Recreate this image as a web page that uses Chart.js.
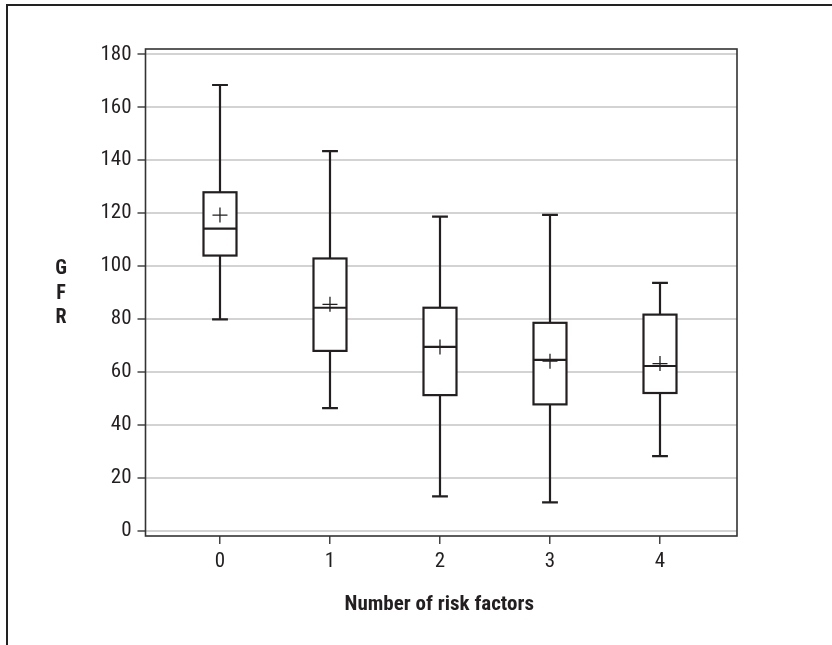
<!DOCTYPE html>
<html>
<head>
<meta charset="utf-8">
<script src="https://cdn.jsdelivr.net/npm/chart.js@4/dist/chart.umd.min.js"></script>
<style>
  html, body { margin: 0; padding: 0; background: #fff; }
  canvas { display: block; }
</style>
</head>
<body>
<canvas id="c" width="832" height="645"></canvas>
<script>
// ---- data ----
const categories   = ['0', '1', '2', '3', '4'];
const whiskerLow   = [79.9, 46.4, 13.1, 10.8, 28.3];
const quartile1    = [104.0, 68.0, 51.3, 47.8, 52.1];
const medians      = [114.2, 84.3, 69.5, 64.6, 62.3];
const quartile3    = [127.9, 102.9, 84.3, 78.6, 81.7];
const whiskerHigh  = [168.4, 143.4, 118.7, 119.4, 93.7];
const means        = [119.3, 85.6, 69.5, 64.1, 63.2];
const yTickValues  = [0, 20, 40, 60, 80, 100, 120, 140, 160, 180];
const xTitle = 'Number of risk factors';
const yTitle = ['G', 'F', 'R'];

const INK = '#231f20';
const FONT = '"Roboto Condensed", "Liberation Sans Narrow", "DejaVu Sans Condensed", sans-serif';

const boxPlugin = {
  id: 'boxes',
  beforeDraw(chart) {
    const ctx = chart.ctx;
    ctx.save();
    ctx.fillStyle = '#fff';
    ctx.fillRect(0, 0, chart.width, chart.height);
    // outer frame (top and left)
    ctx.strokeStyle = '#222';
    ctx.lineWidth = 2;
    ctx.beginPath();
    ctx.moveTo(7, chart.height);
    ctx.lineTo(7, 5);
    ctx.lineTo(chart.width, 5);
    ctx.stroke();
    ctx.restore();
  },
  beforeDatasetsDraw(chart) {
    const ctx = chart.ctx;
    const xs = chart.scales.x, ys = chart.scales.y;
    const halfBox = (xs.getPixelForValue(0.15) - xs.getPixelForValue(0));
    const halfCap = (xs.getPixelForValue(0.072) - xs.getPixelForValue(0));
    ctx.save();
    ctx.strokeStyle = INK;
    ctx.lineWidth = 2.2;
    categories.forEach((c, i) => {
      const x = Math.round(xs.getPixelForValue(i));
      const yLo = ys.getPixelForValue(whiskerLow[i]);
      const yQ1 = ys.getPixelForValue(quartile1[i]);
      const yMd = ys.getPixelForValue(medians[i]);
      const yQ3 = ys.getPixelForValue(quartile3[i]);
      const yHi = ys.getPixelForValue(whiskerHigh[i]);
      // whiskers
      ctx.beginPath();
      ctx.moveTo(x, yHi); ctx.lineTo(x, yQ3);
      ctx.moveTo(x, yQ1); ctx.lineTo(x, yLo);
      ctx.moveTo(x - halfCap, yHi); ctx.lineTo(x + halfCap, yHi);
      ctx.moveTo(x - halfCap, yLo); ctx.lineTo(x + halfCap, yLo);
      ctx.stroke();
      // box
      ctx.fillStyle = '#fff';
      ctx.fillRect(x - halfBox, yQ3, 2 * halfBox, yQ1 - yQ3);
      ctx.strokeRect(x - halfBox, yQ3, 2 * halfBox, yQ1 - yQ3);
      // median
      ctx.beginPath();
      ctx.moveTo(x - halfBox, yMd); ctx.lineTo(x + halfBox, yMd);
      ctx.stroke();
    });
    ctx.restore();
  },
  afterDraw(chart) {
    const ctx = chart.ctx;
    const a = chart.chartArea;
    ctx.save();
    // plot frame
    ctx.strokeStyle = '#333';
    ctx.lineWidth = 1.6;
    ctx.strokeRect(a.left, a.top, a.right - a.left, a.bottom - a.top);
    // titles
    ctx.fillStyle = INK;
    ctx.textAlign = 'center';
    ctx.textBaseline = 'middle';
    ctx.font = 'bold 21px ' + FONT;
    ctx.fillText(xTitle, (a.left + a.right) / 2 - 2, 605);
    ctx.font = 'bold 20px ' + FONT;
    yTitle.forEach((t, i) => ctx.fillText(t, 61, 269 + i * 24.5));
    ctx.restore();
  }
};

new Chart(document.getElementById('c'), {
  type: 'scatter',
  data: {
    datasets: [{
      label: 'Mean',
      data: means.map((m, i) => ({ x: i, y: m })),
      pointStyle: 'cross',
      radius: 7.5,
      hoverRadius: 7.5,
      borderColor: INK,
      borderWidth: 1.3,
      backgroundColor: INK
    }]
  },
  options: {
    responsive: false,
    animation: false,
    devicePixelRatio: 1,
    layout: { padding: { top: 49, right: 95, left: 0, bottom: 0 } },
    plugins: { legend: { display: false }, tooltip: { enabled: false } },
    scales: {
      x: {
        type: 'linear',
        min: -0.677,
        max: 4.70,
        afterBuildTicks: s => { s.ticks = categories.map((c, i) => ({ value: i })); },
        afterFit: s => { s.height = 645 - 536; },
        ticks: {
          callback: (v) => categories[v],
          font: { family: FONT, size: 21, weight: 'normal' },
          color: INK,
          padding: 5,
          maxRotation: 0,
          autoSkip: false
        },
        grid: { drawOnChartArea: false, drawTicks: true, tickLength: 8, color: '#444', lineWidth: 1.5 },
        border: { display: false }
      },
      y: {
        type: 'linear',
        min: -1.9,
        max: 182,
        afterBuildTicks: s => { s.ticks = yTickValues.map(v => ({ value: v })); },
        afterFit: s => { s.width = 145.5; },
        ticks: {
          font: { family: FONT, size: 21, weight: 'normal' },
          color: INK,
          padding: 6
        },
        grid: { color: '#d3d3d3', lineWidth: 2, tickColor: '#444', tickLength: 8, tickWidth: 1.5 },
        border: { display: false }
      }
    }
  },
  plugins: [boxPlugin]
});
</script>
</body>
</html>
